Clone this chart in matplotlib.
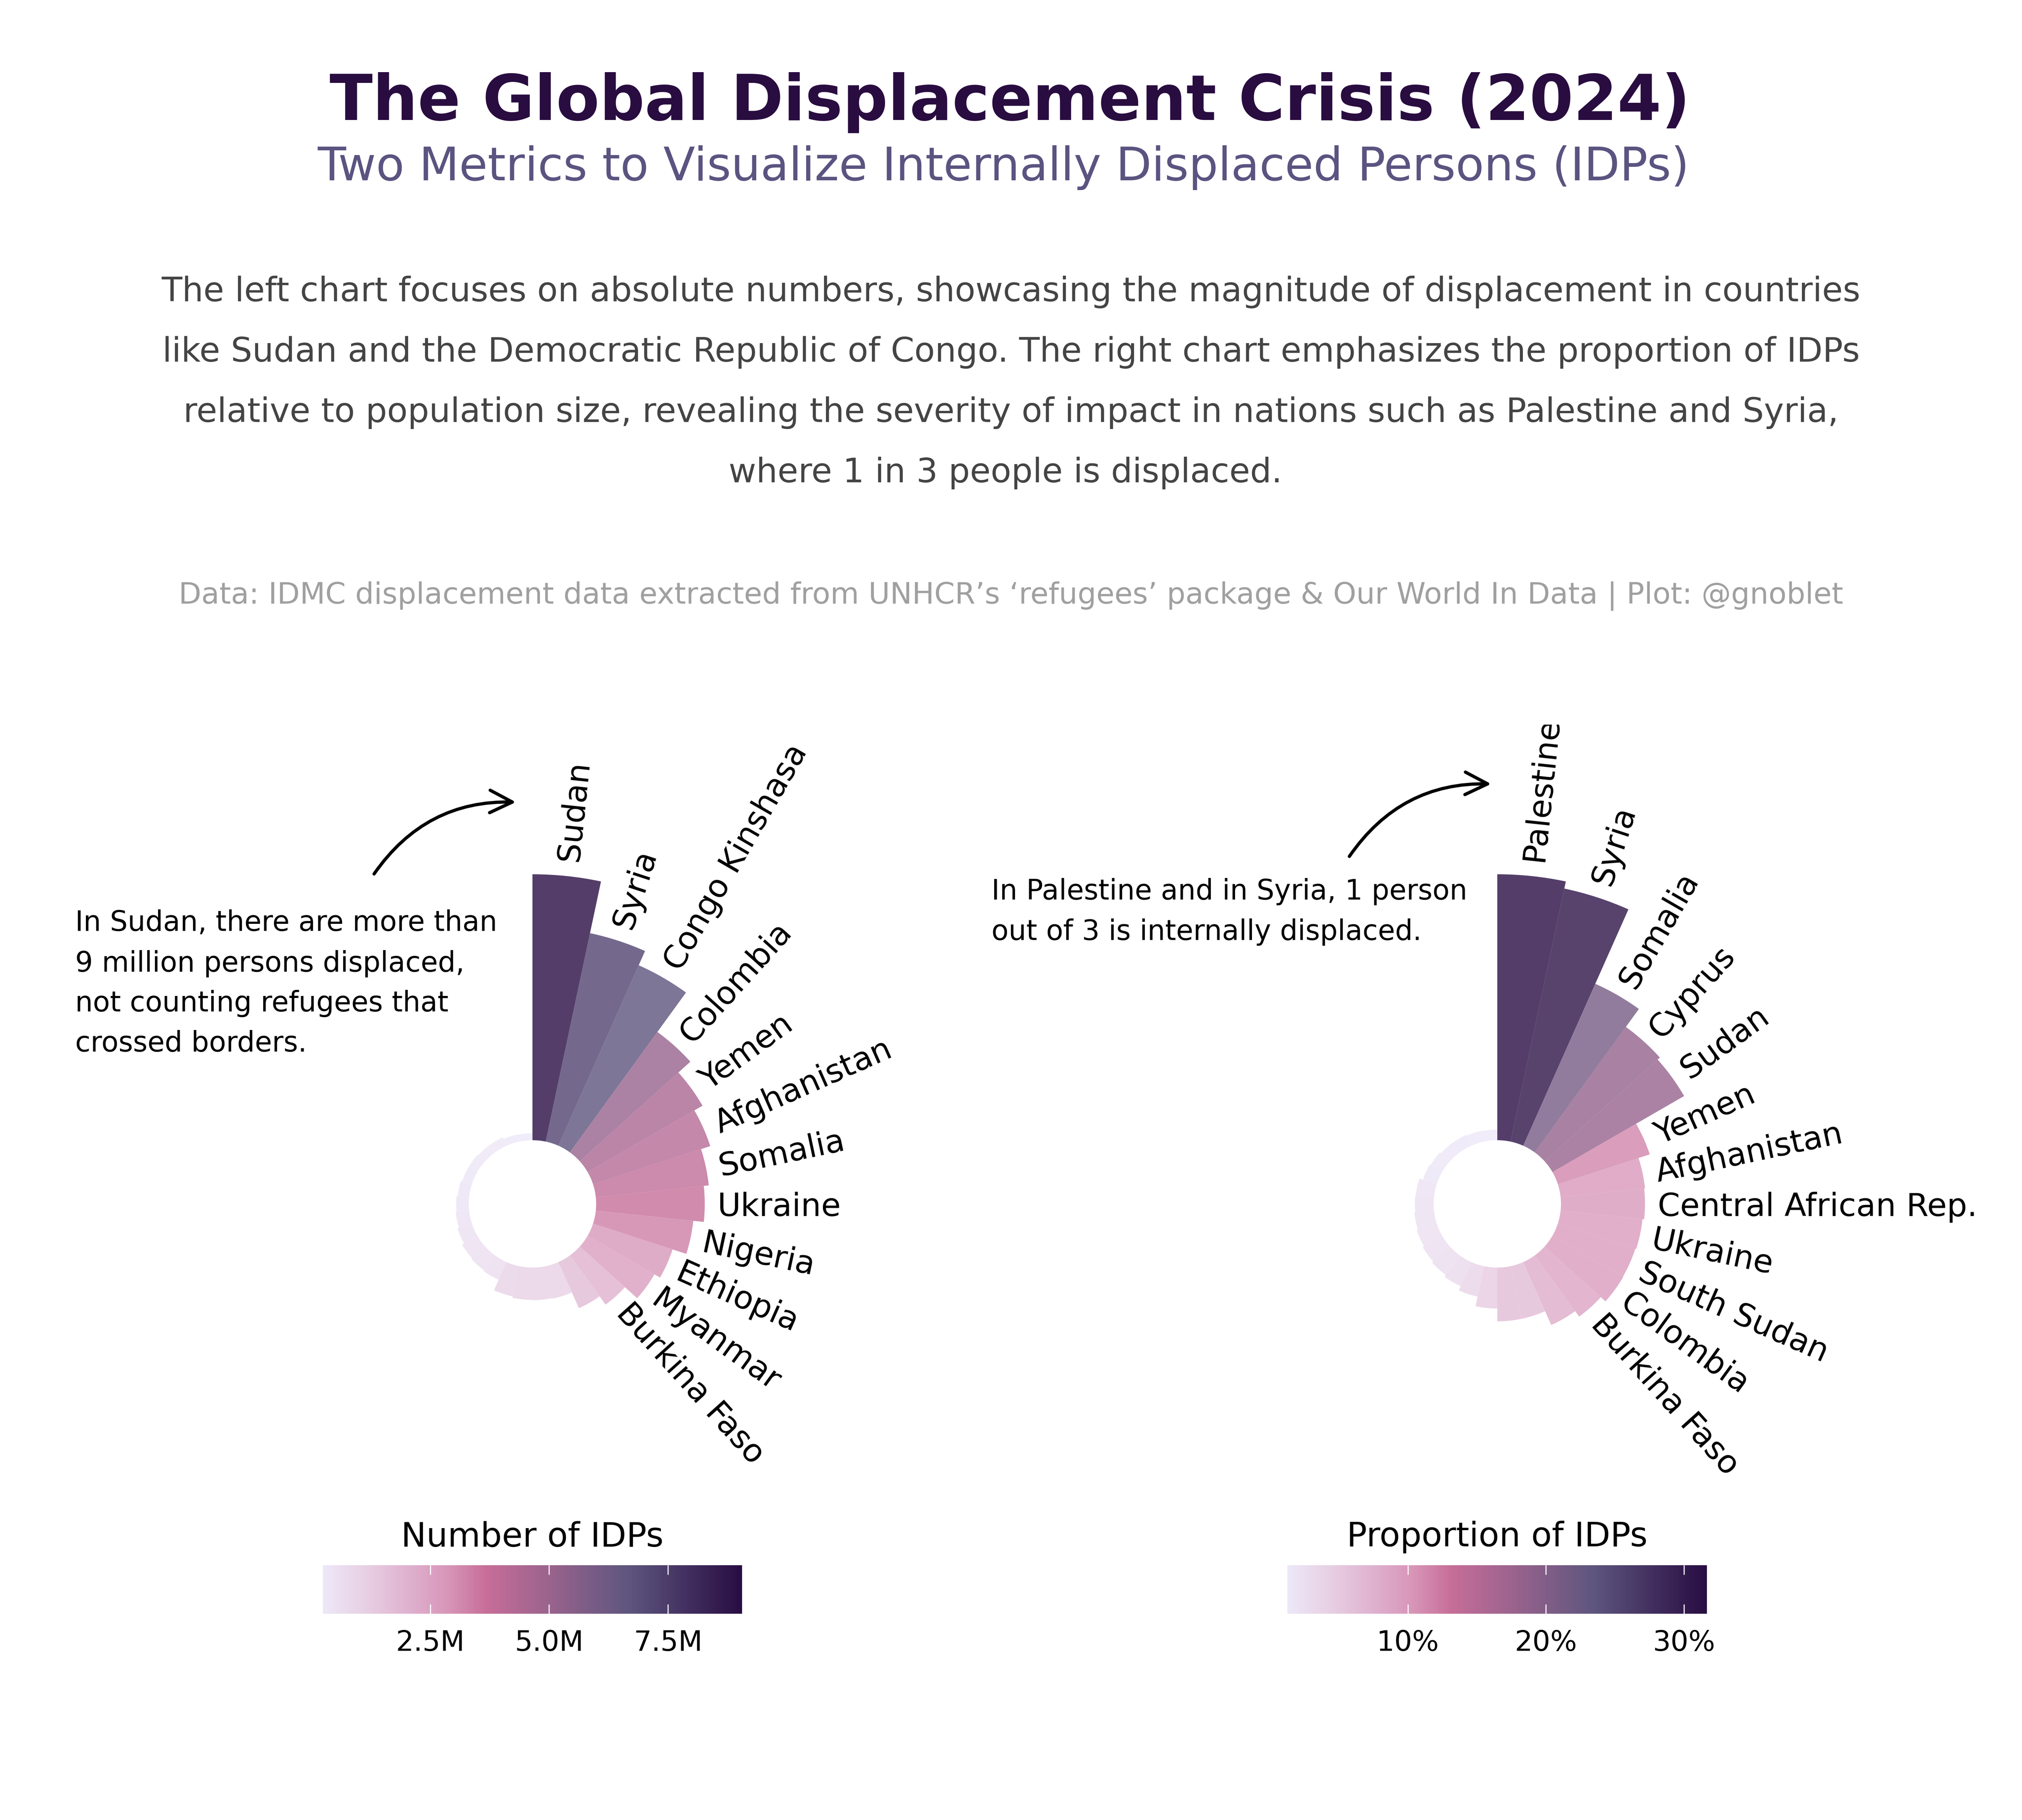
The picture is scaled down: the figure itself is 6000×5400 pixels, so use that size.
import numpy as np
import matplotlib
matplotlib.use("Agg")
import matplotlib.pyplot as plt
from matplotlib.colors import LinearSegmentedColormap, Normalize
from matplotlib.patches import FancyArrowPatch
from matplotlib.transforms import Bbox, TransformedBbox, Affine2D

# ---- data -----------------------------------------------------------------
left_labels = ["Sudan", "Syria", "Congo Kinshasa", "Colombia", "Yemen", "Afghanistan",
               "Somalia", "Ukraine", "Nigeria", "Ethiopia", "Myanmar", "Burkina Faso"]
left_values = [9.06, 7.26, 6.73, 5.07, 4.52, 4.20, 3.87, 3.70, 3.34, 2.85, 2.63, 2.07,
               1.72, 1.13, 1.11, 1.10, 1.05, 0.66, 0.63, 0.60, 0.52, 0.46, 0.43, 0.39,
               0.345, 0.34, 0.31, 0.31, 0.25, 0.238]
right_labels = ["Palestine", "Syria", "Somalia", "Cyprus", "Sudan", "Yemen", "Afghanistan",
                "Central African Rep.", "Ukraine", "South Sudan", "Colombia", "Burkina Faso"]
right_values = [31.66, 30.8, 21.1, 18.46, 18.1, 11.5, 10.1, 10.0, 9.8, 9.7, 9.75, 9.0,
                8.2, 6.4, 6.4, 4.87, 3.7, 3.13, 2.86, 2.68, 2.5, 2.35, 2.23, 2.17,
                1.73, 1.6, 1.44, 1.42, 1.32, 1.26]
left_ticks = [2.5, 5.0, 7.5]
left_ticklabels = ["2.5M", "5.0M", "7.5M"]
right_ticks = [10, 20, 30]
right_ticklabels = ["10%", "20%", "30%"]

cmap = LinearSegmentedColormap.from_list("idp", [
    (0.00, "#EDE8F8"), (0.10, "#E8D0E4"), (0.21, "#DFB0CE"), (0.30, "#D895B8"),
    (0.39, "#C76E99"), (0.55, "#97638D"), (0.73, "#5E567F"), (1.00, "#290D43")])

W, H = 6000, 5400
plt.rcParams["font.family"] = ["DejaVu Sans"]
fig = plt.figure(figsize=(20, 18), dpi=300, facecolor="white")


def fx(x):
    return x / W


def fy(y):
    return 1 - y / H


def ftext(x, y, s, **kw):
    return fig.text(fx(x), fy(y), s, **kw)


# ---- headers --------------------------------------------------------------
ftext(2997, 356, "The Global Displacement Crisis (2024)", ha="center", va="baseline",
      fontsize=45, fontweight="bold", color="#290C40")
ftext(2978, 535, "Two Metrics to Visualize Internally Displaced Persons (IDPs)", ha="center",
      va="baseline", fontsize=33, color="#5B5380")
body = ["The left chart focuses on absolute numbers, showcasing the magnitude of displacement in countries",
        "like Sudan and the Democratic Republic of Congo. The right chart emphasizes the proportion of IDPs",
        "relative to population size, revealing the severity of impact in nations such as Palestine and Syria,",
        "where 1 in 3 people is displaced."]
for y, x, line in zip([894, 1073, 1252, 1431], [3000, 3000, 3000, 2983], body):
    ftext(x, y, line, ha="center", va="baseline", fontsize=24, color="#444444")
ftext(3000, 1790, "Data: IDMC displacement data extracted from UNHCR\u2019s \u2018refugees\u2019 package & Our World In Data | Plot: @gnoblet",
      ha="center", va="baseline", fontsize=21, color="#A0A0A0")

# ---- notes ----------------------------------------------------------------
for y, line in zip([2762, 2883, 3001, 3120],
                   ["In Sudan, there are more than", "9 million persons displaced,",
                    "not counting refugees that", "crossed borders."]):
    ftext(223, y, line, ha="left", va="baseline", fontsize=19.9, color="black")
for y, line in zip([2669, 2789],
                   ["In Palestine and in Syria, 1 person", "out of 3 is internally displaced."]):
    ftext(2942, y, line, ha="left", va="baseline", fontsize=19.9, color="black")

for (x0, y0, x1, y1) in [(1110, 2593, 1531, 2380), (4004, 2541, 4425, 2326)]:
    fig.add_artist(FancyArrowPatch((fx(x0), fy(y0)), (fx(x1), fy(y1)),
                                   transform=fig.transFigure,
                                   connectionstyle="arc3,rad=-0.27", arrowstyle="->",
                                   mutation_scale=40, lw=2.3, color="black",
                                   shrinkA=0, shrinkB=0))

# ---- polar panels ---------------------------------------------------------
CY, R_OUT, R_IN = 3572, 978, 189
WIDTH = np.deg2rad(12)
top_clip = TransformedBbox(Bbox([[0, 0], [1, fy(2150)]]), fig.transFigure)
# small pixel nudges for the two near-vertical labels of each panel
nudges = {0: (-7, 7), 1: (-7, 5)}


def panel(cx, values, labels):
    ax = fig.add_axes([fx(cx - R_OUT), fy(CY + R_OUT), 2 * R_OUT / W, 2 * R_OUT / H],
                      projection="polar")
    vals = np.asarray(values, float)
    vmax = vals.max()
    ax.set_theta_zero_location("N")
    ax.set_theta_direction(-1)
    ax.set_thetalim(0, 2 * np.pi)
    theta = WIDTH * (np.arange(len(vals)) + 0.5)
    norm = Normalize(vals.min(), vmax)
    bars = ax.bar(theta, vals, width=WIDTH, bottom=0, color=cmap(norm(vals)),
                  alpha=0.8, linewidth=0)
    for b in bars:
        b.set_clip_on(False)
    ax.set_rorigin(-vmax * R_IN / (R_OUT - R_IN))
    ax.set_rlim(0, vmax)
    ax.set_axis_off()
    pad = vmax * 38 / (R_OUT - R_IN)
    for i, (t, v, name) in enumerate(zip(theta, vals, labels)):
        dx, dy = nudges.get(i, (0, 0))
        ax.text(t, v + pad, name, rotation=90 - np.rad2deg(t), rotation_mode="anchor",
                ha="left", va="center_baseline", fontsize=22.8, color="black",
                transform=ax.transData + Affine2D().translate(dx, dy),
                clip_on=True, clip_box=top_clip)
    return ax


panel(1580, left_values, left_labels)
panel(4443, right_values, right_labels)


# ---- colour legends -------------------------------------------------------
def legend(x0, x1, vmin, vmax, ticks, ticklabels, title):
    top, bottom = 4644, 4788
    ax = fig.add_axes([fx(x0), fy(bottom), (x1 - x0) / W, (bottom - top) / H])
    grad = np.linspace(0, 1, 256).reshape(1, -1)
    ax.imshow(grad, cmap=cmap, aspect="auto", extent=[vmin, vmax, 0, 1], interpolation="nearest")
    ax.set_yticks([])
    ax.set_xticks(ticks, ticklabels, fontsize=20)
    ax.tick_params(axis="x", length=0, pad=11)
    for s in ax.spines.values():
        s.set_visible(False)
    tl = 28 / (bottom - top)
    ax.vlines(ticks, 0, tl, color="white", lw=0.8)
    ax.vlines(ticks, 1 - tl, 1, color="white", lw=0.8)
    ftext((x0 + x1) / 2, 4588, title, ha="center", va="baseline", fontsize=24, color="black")


legend(958, 2202, 0.238, 9.06, left_ticks, left_ticklabels, "Number of IDPs")
legend(3820, 5065, 1.26, 31.66, right_ticks, right_ticklabels, "Proportion of IDPs")

fig.savefig("out.png", dpi=300, facecolor="white")
